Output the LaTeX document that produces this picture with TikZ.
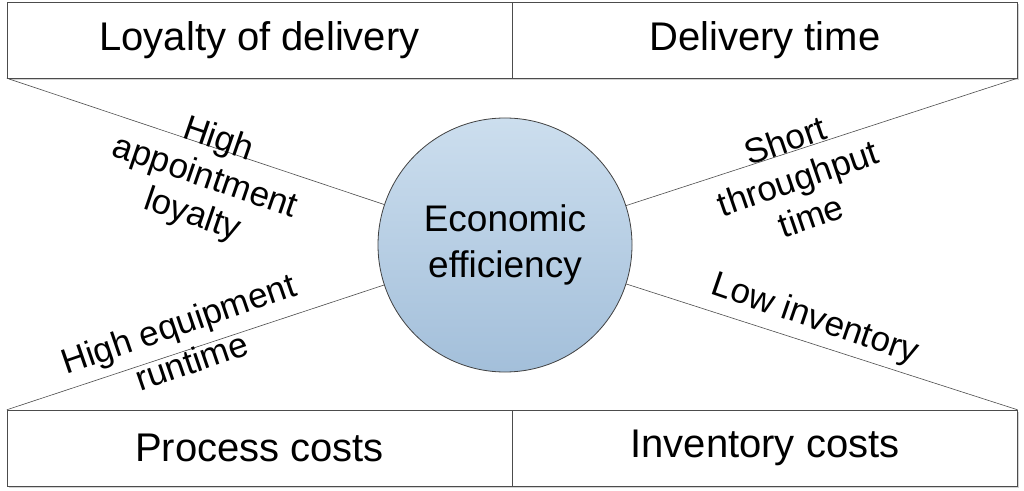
\documentclass[tikz,border=0pt]{standalone}
\usepackage{fontspec}
\setmainfont{Liberation Sans}
\usetikzlibrary{positioning,shadows}
\definecolor{goaltop}{HTML}{CCDEEE}
\definecolor{goalbottom}{HTML}{A3BFDA}
\tikzset{
	box/.style={draw=black!70, fill=white, minimum width=505pt, minimum height=76pt, inner sep=0pt, font=\fontsize{40}{44}\selectfont, drop shadow={shadow xshift=2pt, shadow yshift=-2pt, opacity=.35}},
	goal/.style={circle, draw=black!75, line width=0.8pt, minimum size=254pt, inner sep=0pt, top color=goaltop, bottom color=goalbottom, align=center, font=\fontsize{37}{46}\selectfont},
	crit/.style={align=center, inner sep=1pt, font=\fontsize{35}{40}\selectfont},
	link/.style={draw=black!70, line width=0.6pt}
}
\begin{document}
\begin{tikzpicture}[x=1pt, y=1pt]
	\useasboundingbox (0,0) rectangle (1024,490);
	% goal
	\node[goal] (economic) at (505,245) {Economic\\efficiency};
	
	% target boxes
	\node[box] (loyalty) at (259.5,450) {Loyalty of delivery};
	\node[box, right=0pt of loyalty] (delivery) {Delivery time};
	\node[box] (process) at (259.5,42) {Process costs};
	\node[box, right=0pt of process] (inventory) {Inventory costs};
	
	% connections
	\draw[link] (loyalty.south west) -- (economic);
	\draw[link] (delivery.south east) -- (economic);
	\draw[link] (process.north west) -- (economic);
	\draw[link] (inventory.north east) -- (economic);
	
	% criteria
	\node[crit, rotate=-19] (appointment) at (205,312) {High\\appointment\\loyalty};
	\node[crit, rotate=19] (throughput) at (798,312) {Short\\throughput\\time};
	\node[crit, rotate=19] (runtime) at (185,148) {High equipment\\runtime};
	\node[crit, rotate=-19] (lowinv) at (815,170) {Low inventory};
\end{tikzpicture}
\end{document}
